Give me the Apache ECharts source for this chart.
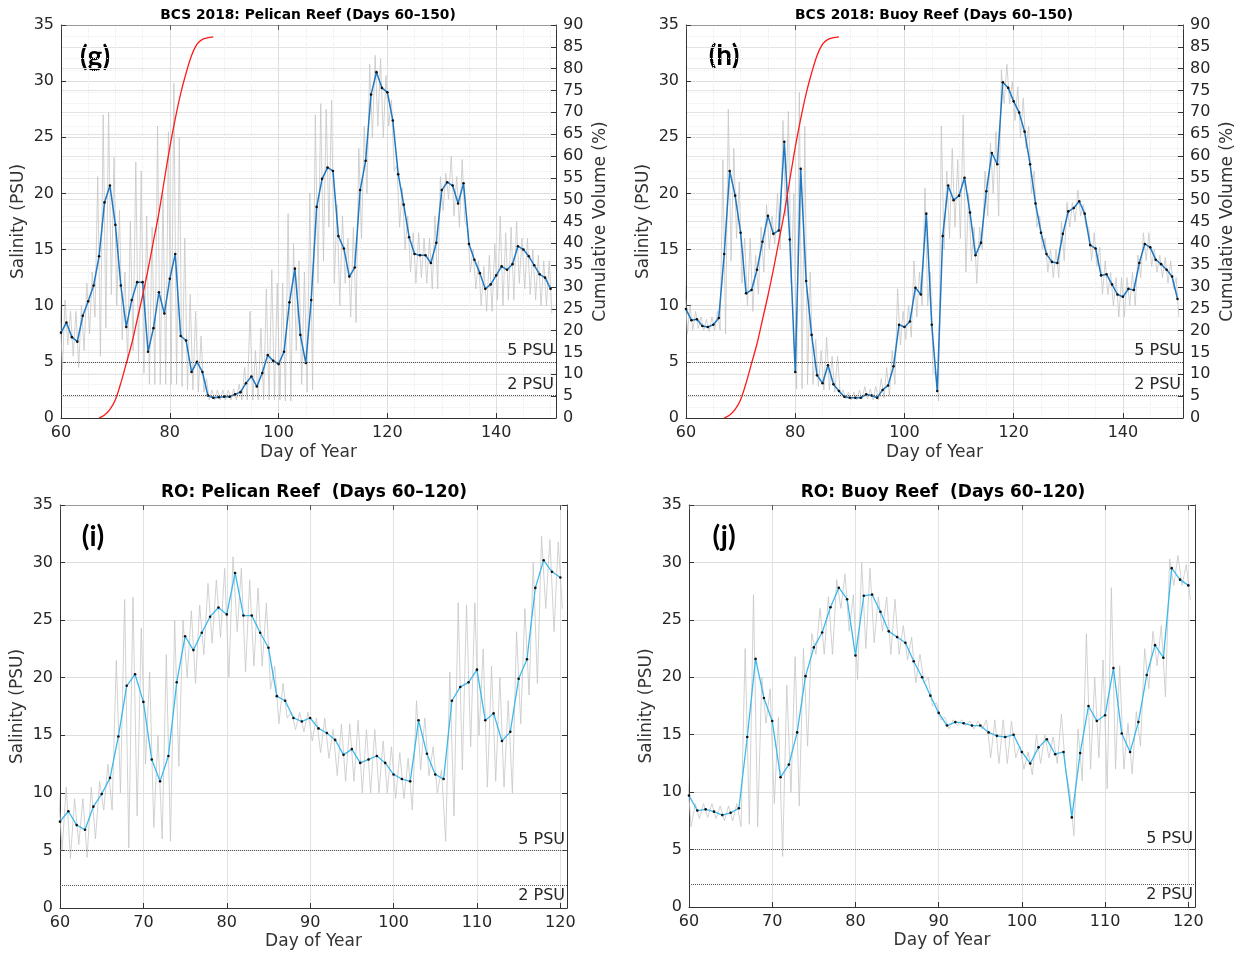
<!DOCTYPE html>
<html><head><meta charset="utf-8">
<script src="https://cdn.jsdelivr.net/npm/echarts@6/dist/echarts.min.js"></script>
<style>html,body{margin:0;padding:0;background:#fff}#c{width:1237px;height:955px}</style>
</head><body><div id="c"></div><script>
// ---------------- DATA ----------------
const startDay = 60;
// daily mean salinity (PSU), days 60..150 (top panels) and 60..120 (bottom panels)
const salG = [7.6,8.5,7.2,6.8,9.1,10.4,11.8,14.4,19.2,20.7,
 17.2,11.8,8.1,10.5,12.1,12.1,5.9,8.0,11.2,9.3,
 12.4,14.6,7.3,6.9,4.1,5.0,4.1,2.0,1.8,1.85,
 1.9,1.9,2.1,2.3,3.1,3.7,2.8,4.0,5.6,5.1,
 4.8,5.9,10.3,13.3,7.4,4.9,10.5,18.8,21.3,22.3,
 22.0,16.2,15.1,12.6,13.4,20.3,22.9,28.8,30.8,29.4,
 29.0,26.5,21.7,19.0,16.1,14.6,14.5,14.5,13.8,15.6,
 20.3,21.0,20.7,19.1,20.9,15.5,14.1,12.9,11.5,11.9,
 12.7,13.5,13.2,13.7,15.3,15.0,14.4,13.6,12.8,12.5,11.5];
const salH = [9.7,8.7,8.8,8.2,8.1,8.3,8.9,14.6,22.0,19.8,
 16.5,11.1,11.4,13.2,15.7,18.0,16.4,16.7,24.6,15.9,
 4.1,22.2,12.2,7.4,3.8,3.1,4.7,3.0,2.4,1.9,
 1.8,1.8,1.8,2.1,2.0,1.8,2.5,2.9,4.6,8.3,
 8.1,8.6,11.6,11.0,18.2,8.3,2.4,16.2,20.7,19.4,
 19.8,21.4,18.3,14.5,15.6,20.2,23.6,22.6,29.9,29.4,
 28.2,27.2,25.5,22.6,19.1,16.5,14.6,13.9,13.8,16.4,
 18.4,18.7,19.3,18.2,15.4,15.1,12.7,12.8,11.9,11.0,
 10.8,11.5,11.4,13.8,15.5,15.2,14.1,13.7,13.2,12.6,10.6];
const salI = [7.5,8.4,7.2,6.8,8.8,9.9,11.3,14.9,19.3,20.3,
 17.9,12.9,11.0,13.2,19.6,23.6,22.4,23.9,25.3,26.1,
 25.5,29.1,25.4,25.4,23.9,22.6,18.4,18.0,16.5,16.2,
 16.5,15.6,15.2,14.6,13.3,13.8,12.6,12.9,13.2,12.6,
 11.6,11.2,11.0,16.3,13.4,11.6,11.2,18.0,19.2,19.6,
 20.7,16.3,16.9,14.5,15.3,19.9,21.6,27.8,30.2,29.2,28.7];
const salJ = [9.7,8.4,8.5,8.3,8.0,8.2,8.6,14.8,21.6,18.2,
 16.2,11.3,12.4,15.2,20.1,22.6,23.9,26.1,27.8,26.8,
 21.9,27.1,27.2,25.7,24.0,23.5,23.0,21.4,20.0,18.4,
 16.9,15.8,16.1,16.0,15.8,15.8,15.2,14.9,14.8,15.0,
 13.5,12.5,13.9,14.6,13.3,13.5,7.8,13.4,17.5,16.2,
 16.7,20.8,15.1,13.5,16.1,20.2,22.8,21.7,29.5,28.5,28.0];
// raw (tidal) record: daily high / low
const hiG = [10.8,10.5,9.5,9.5,10,12,13,21.5,27,27.2,
 23.2,18.5,13,17.5,22.8,22,18,17,26,20,
 25.5,29.8,25,16,11,9.5,7.3,3.5,2.5,2.5,
 2.5,2.5,2.6,3,4.5,9.5,6,8,11.5,13.2,
 12,12,18.2,15.5,14,13,20,27,28,27.5,
 28.3,19,18,16,17,24,26,31.5,32.3,32,
 30.5,28.3,22.5,20.5,18,16.5,16.5,16,16,18,
 21.5,21.8,23.3,21.5,23,17,15,14,13.5,14.5,
 15.5,18,16.5,17,17.5,16,16,15,14.5,14,14];
const loG = [4.3,6.5,5.5,4.5,6,7.5,9,5.5,8,11,
 10,7,5,6,5,4,3,3,3,3,
 3,3,2.8,2.5,2.5,2.3,2.3,1.6,1.6,1.6,
 1.6,1.6,1.6,1.6,1.6,1.6,1.6,1.6,1.6,1.6,
 1.6,1.5,1.5,6,3,2.3,2.5,12,14,17,
 12,10,12,9,8.5,16,20,25,26,25,
 26,22,17,15,13,12,12.5,12,11.5,11.5,
 18.5,19.5,18,17,17.5,13,11.5,10,9.5,9.5,
 10.5,10,10.5,10.5,12,11.5,11,10.5,10,10,9.3];
const hiH = [12.3,10,9.5,9,8.8,9,9.5,23,27.5,24,
 21,16,16,14.5,17,19,18,20,26.5,27.3,
 20,29,26,13,7,6,7.2,5.5,5.5,2.5,
 2.3,2.3,2.5,2.8,2.6,2.8,3.5,4.5,6,11.5,
 9.5,10,14,13,20.5,13,4,26,22,24,
 23,27,20,17,17,22,24.5,25.5,31,31.5,
 30,29.5,28.5,26,22,18,16,15,15,17.5,
 19.2,19.2,20.3,19,17,16.5,15.2,14,13,12.5,
 12.5,12.5,13,14.5,16.5,16.5,15,14.5,14.3,14,12.5];
const loH = [7.5,7.8,8,7.8,7.7,7.8,7.8,7.5,14,16,
 12,10,9.5,11,13,15,15.5,15,18,12,
 2.6,2.6,3,3,2.8,2.5,2.5,2.3,2,1.7,
 1.6,1.6,1.7,1.7,1.6,1.6,1.8,2,3,6.5,
 7,7.2,9,10,10,4,1.5,15,16,17,
 16,13,14,12,15,18,20,18,28,28,
 26.5,25,24,20,17,15,13,12.5,12.5,14,
 17,17.5,18,17,14,13.5,11,11,10,9,
 9,10,10,12.5,14,13.5,13,12.5,12,11.5,9];
const hiI = [10.8,10.5,9.5,9.5,10.5,11,12.5,21.5,26.8,27,
 24.3,20.5,15,22,25,25,25.8,26.3,28.2,28.5,
 29.5,30.5,29.5,28.5,27.8,26.5,21,19.5,17,17,
 17,16.5,16.5,15.5,16,16,16.3,15.5,15.5,14.5,
 14,13.5,13,18,16.5,14,12,20.5,26.5,26.3,
 26.5,22.5,21,20,18,24,26,30,32.3,32,31.8];
const loI = [5,4.3,5.5,4.4,6,8.5,8.5,10,5.2,8,
 12.5,7,6,5.8,12.3,20,19.5,22,23,23.5,
 20,24,20.5,21,21,19,16,16.5,15.5,15.3,
 14.5,13.5,13,11.5,11,11,10,10,10,10,
 9.5,9.5,8.5,12,11.5,10,5.8,8,12,14,
 15,10.5,11,10.5,10,16,18.5,19.5,26,24,26];
const hiJ = [12,9,9,9,8.8,8.8,9,22.5,27.2,20,
 19,16.5,19.3,21.8,22.5,23.8,26,27,28.5,29,
 27.2,30,29.5,27,27,26.8,24.5,23.5,22,20,
 17.8,16.5,16.3,16.3,16.2,16.2,16.3,16.3,16.3,16.2,
 14,13.5,15,15,14.8,16.8,10,15.5,23.8,20,
 21.5,27.8,21,16,17,22.5,24,24.5,30.3,30.6,29.8];
const loJ = [7,7.7,7.8,7.7,7.5,7.5,7,7.2,7,16,
 9,4.4,10,8.8,14,22,22,22,26,24,
 19.8,22.5,23,24,22,22,21.5,19.5,19.5,17.5,
 16.3,15.5,15.8,15.8,15.5,15.5,13,12.5,12.5,13,
 12,11.5,12.5,13,12.5,12,6.2,11,12,13,
 10.3,12,12,11.6,14,19,21,18.3,28,28,26.7];
// cumulative discharge volume (%), right axis of top panels
const redDays = [67,68,69,70,71,72,73,74,75,76,77,78,79,80,81,82,83,84,85,86,87,88];
const redVol  = [0,0.7,2,4.2,8,12.5,17,22.5,28,34,40.5,47,54.5,62,68.5,74.3,79,83,85.6,86.7,87.1,87.3];
const titles = ['BCS 2018: Pelican Reef (Days 60\u2013150)','BCS 2018: Buoy Reef (Days 60\u2013150)',
  'RO: Pelican Reef  (Days 60\u2013120)','RO: Buoy Reef  (Days 60\u2013120)'];
const panelTags = ['(g)','(h)','(i)','(j)'];
const psuLevels = [5, 2];

// ---------------- BUILD ----------------
const FONT = 'DejaVu Sans';
const TXT = '#262626';
const pairs = arr => arr.map((v,i)=>[startDay+i, v]);
const rawTrace = (hi, lo) => { const out=[]; hi.forEach((h,i)=>{ const d=startDay+i; out.push([d-0.25,h]); out.push([d+0.25,lo[i]]); }); return out; };

const grids = [
  {left:61, top:25, width:495, height:393},
  {left:686, top:25, width:497, height:393},
  {left:60, top:505, width:507, height:403},
  {left:689, top:505, width:506, height:402}
];
const xAxes=[], yAxes=[], series=[];
function addPanel(gi, cfg){
  const top = cfg.top;
  xAxes.push({type:'value', gridIndex:gi, min:60, max:cfg.xmax, interval:cfg.xint, position:'bottom',
    name:'Day of Year', nameLocation:'middle', nameGap: top?26:25,
    nameTextStyle:{fontFamily:FONT, fontSize:17, color:'#333'},
    axisLine:{onZero:false, lineStyle:{color:'#333', width:1}},
    axisTick:{inside:true, length:5, lineStyle:{color:'#333'}},
    axisLabel:{fontFamily:FONT, fontSize:16, color:TXT, margin:7, showMaxLabel:false},
    splitLine:{show:true, lineStyle:{color: top?'#dedede':'#e2e2e2', width:1}},
    minorTick:{show:false, splitNumber:4},
    minorSplitLine:{show:top, lineStyle:{color:'#ececec', type:'dotted', width:1}}
  });
  xAxes.push({type:'value', gridIndex:gi, min:60, max:cfg.xmax, interval:cfg.xint, position:'top',
    axisLine:{onZero:false, lineStyle:{color:'#999', width:1}},
    axisTick:{inside:true, length:5, lineStyle:{color:'#555'}},
    axisLabel:{show:false}, splitLine:{show:false}
  });
  const xb = xAxes.length-2;
  yAxes.push({type:'value', gridIndex:gi, min:0, max:35, interval:5, position:'left',
    name:'Salinity (PSU)', nameLocation:'middle', nameGap:34,
    nameTextStyle:{fontFamily:FONT, fontSize:17, color:'#333'},
    axisLine:{show:true, onZero:false, lineStyle:{color:'#333', width:1}},
    axisTick:{show:true, inside:true, length:5, lineStyle:{color:'#333'}},
    axisLabel:{fontFamily:FONT, fontSize:16, color:TXT, margin:7},
    splitLine:{show:true, lineStyle:{color:'#dedede', width:1}},
    minorTick:{show:false, splitNumber:5},
    minorSplitLine:{show:top, lineStyle:{color:'#ededed', type:'dotted', width:1}}
  });
  const yl = yAxes.length-1;
  if (top) {
    yAxes.push({type:'value', gridIndex:gi, min:0, max:90, interval:5, position:'right',
      name:'Cumulative Volume (%)', nameLocation:'middle', nameGap:36,
      nameTextStyle:{fontFamily:FONT, fontSize:17, color:'#333'},
      axisLine:{show:true, onZero:false, lineStyle:{color:'#333', width:1}},
      axisTick:{show:true, inside:true, length:5, lineStyle:{color:'#333'}},
      axisLabel:{fontFamily:FONT, fontSize:16, color:TXT, margin:7},
      splitLine:{show:true, lineStyle:{color:'#e4e4e4', width:1}}
    });
  } else {
    yAxes.push({type:'value', gridIndex:gi, min:0, max:35, interval:5, position:'right',
      axisLine:{show:true, onZero:false, lineStyle:{color:'#333', width:1}},
      axisTick:{show:true, inside:true, length:5, lineStyle:{color:'#333'}},
      axisLabel:{show:false}, splitLine:{show:false}
    });
  }
  const yr = yAxes.length-1;
  series.push({type:'line', xAxisIndex:xb, yAxisIndex:yl, data:rawTrace(cfg.hi, cfg.lo),
    showSymbol:false, symbol:'none', lineStyle:{color:'#c6c6c6', width:0.8}, z:1, silent:true, animation:false});
  series.push({type:'line', xAxisIndex:xb, yAxisIndex:yl, data:pairs(cfg.sal),
    symbol:'circle', symbolSize:2.6, showSymbol:true,
    lineStyle:{color:cfg.color, width: top?1.5:1.3}, itemStyle:{color:'#111'}, z:3, animation:false,
    markLine:{silent:true, symbol:'none', animation:false,
      lineStyle:{color:'#555', type:'dotted', width:1},
      data: psuLevels.map(v=>({yAxis:v, label:{show:true, formatter: v+' PSU', position: (!top && v===2)?'insideEndBottom':'insideEndTop',
        fontFamily:FONT, fontSize:16, color:TXT, distance:[2,3]}}))
    }
  });
  if (top) {
    series.push({type:'line', xAxisIndex:xb, yAxisIndex:yr, data:redDays.map((d,i)=>[d, redVol[i]]),
      symbol:'none', smooth:0.3, lineStyle:{color:'#ff1a1a', width:1.3}, z:4, animation:false});
  }
}
addPanel(0,{top:true, xmax:151, xint:20, sal:salG, hi:hiG, lo:loG, color:'#1f78c1'});
addPanel(1,{top:true, xmax:151, xint:20, sal:salH, hi:hiH, lo:loH, color:'#1f78c1'});
addPanel(2,{top:false, xmax:120.8, xint:10, sal:salI, hi:hiI, lo:loI, color:'#3cb8ec'});
addPanel(3,{top:false, xmax:120.8, xint:10, sal:salJ, hi:hiJ, lo:loJ, color:'#3cb8ec'});

const titlePos = [[308,15,13.8],[934,15,13.8],[314,493,17],[943,493,17]];
const tagPos = [[95,57],[724,56],[93,537],[724,537]];
const graphic = [];
titles.forEach((t,i)=>graphic.push({type:'text', x:titlePos[i][0], y:titlePos[i][1], silent:true,
  style:{text:t, fill:'#000', font:'bold '+titlePos[i][2]+'px "DejaVu Sans"', align:'center', verticalAlign:'middle', textAlign:'center', textVerticalAlign:'middle'}}));
panelTags.forEach((t,i)=>graphic.push({type:'text', x:tagPos[i][0], y:tagPos[i][1], silent:true,
  style:{text:t, fill:'#000', font:'bold 28px Lato', align:'center', verticalAlign:'middle', textAlign:'center', textVerticalAlign:'middle'}}));

const chart = echarts.init(document.getElementById('c'));
chart.setOption({
  animation:false,
  backgroundColor:'#fff',
  grid: grids,
  xAxis: xAxes,
  yAxis: yAxes,
  series: series,
  graphic: graphic
});
</script></body></html>
